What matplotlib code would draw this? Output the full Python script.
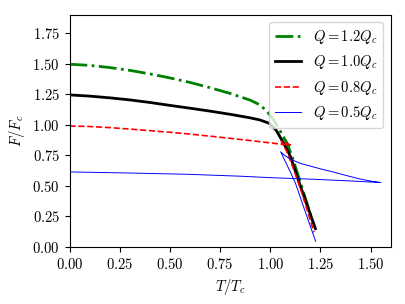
import matplotlib
matplotlib.use("Agg")
import matplotlib.pyplot as plt

plt.rcParams['font.family'] = 'serif'
plt.rcParams['font.serif'] = ['cmr10']
plt.rcParams['mathtext.fontset'] = 'cm'
plt.rcParams['axes.formatter.use_mathtext'] = True
plt.rcParams['axes.unicode_minus'] = False
plt.rcParams['font.size'] = 10.5

# Q = 1.2 Qc
t_12 = [0, 0.1, 0.2, 0.3, 0.4, 0.5, 0.6, 0.7, 0.8, 0.9, 0.95, 0.985, 1.017,
        1.05, 1.084, 1.11, 1.15, 1.215]
f_12 = [1.497, 1.488, 1.470, 1.447, 1.418, 1.385, 1.348, 1.305, 1.258, 1.203,
        1.163, 1.109, 1.041, 0.948, 0.85, 0.735, 0.53, 0.19]

# Q = 1.0 Qc
t_10 = [0, 0.1, 0.2, 0.3, 0.4, 0.5, 0.6, 0.7, 0.8, 0.9, 0.95, 0.99, 1.0,
        1.03, 1.067, 1.1, 1.15, 1.225]
f_10 = [1.246, 1.236, 1.222, 1.205, 1.184, 1.160, 1.137, 1.113, 1.087, 1.058,
        1.040, 1.016, 1.007, 0.955, 0.85, 0.745, 0.50, 0.15]

# Q = 0.8 Qc (small swallowtail)
t_08 = [0, 0.1, 0.2, 0.3, 0.4, 0.5, 0.6, 0.7, 0.8, 0.9, 1.0, 1.05, 1.10,
        1.085, 1.07, 1.055, 1.065, 1.08, 1.10, 1.13, 1.16, 1.218]
f_08 = [0.991, 0.987, 0.978, 0.966, 0.953, 0.940, 0.925, 0.908, 0.890, 0.872,
        0.853, 0.843, 0.835, 0.848, 0.857, 0.865, 0.835, 0.79, 0.71, 0.575,
        0.43, 0.12]

# Q = 0.5 Qc (swallowtail)
t_05 = [0, 0.3, 0.6, 0.85, 1.0, 1.2, 1.4, 1.55,
        1.50, 1.45, 1.38, 1.317, 1.25, 1.15, 1.10, 1.07, 1.052,
        1.062, 1.076, 1.10, 1.126, 1.17, 1.226]
f_05 = [0.615, 0.606, 0.595, 0.580, 0.568, 0.556, 0.541, 0.528,
        0.540, 0.556, 0.585, 0.613, 0.640, 0.685, 0.720, 0.752, 0.780,
        0.745, 0.697, 0.615, 0.520, 0.310, 0.047]

fig = plt.figure(figsize=(4.06, 3.04), dpi=100)
ax = fig.add_axes([0.1712, 0.1875, 0.7911, 0.763])

ax.plot(t_12, f_12, c='green', ls='-.', lw=2, label=r'$Q=1.2Q_c$')
ax.plot(t_10, f_10, c='black', ls='-', lw=2, label=r'$Q=1.0Q_c$')
ax.plot(t_08, f_08, c='red', ls='--', lw=1.2, label=r'$Q=0.8Q_c$')
ax.plot(t_05, f_05, c='blue', ls='-', lw=0.7, label=r'$Q=0.5Q_c$')

ax.set_xlim(0, 1.6)
ax.set_ylim(0, 1.9)
ax.set_xticks([0, 0.25, 0.5, 0.75, 1.0, 1.25, 1.5])
ax.set_yticks([0, 0.25, 0.5, 0.75, 1.0, 1.25, 1.5, 1.75])
ax.set_xlabel(r'$T/T_c$')
ax.set_ylabel(r'$F/F_c$')
ax.legend(loc='upper right', handlelength=1.8)

fig.savefig('out.png', dpi=100)
